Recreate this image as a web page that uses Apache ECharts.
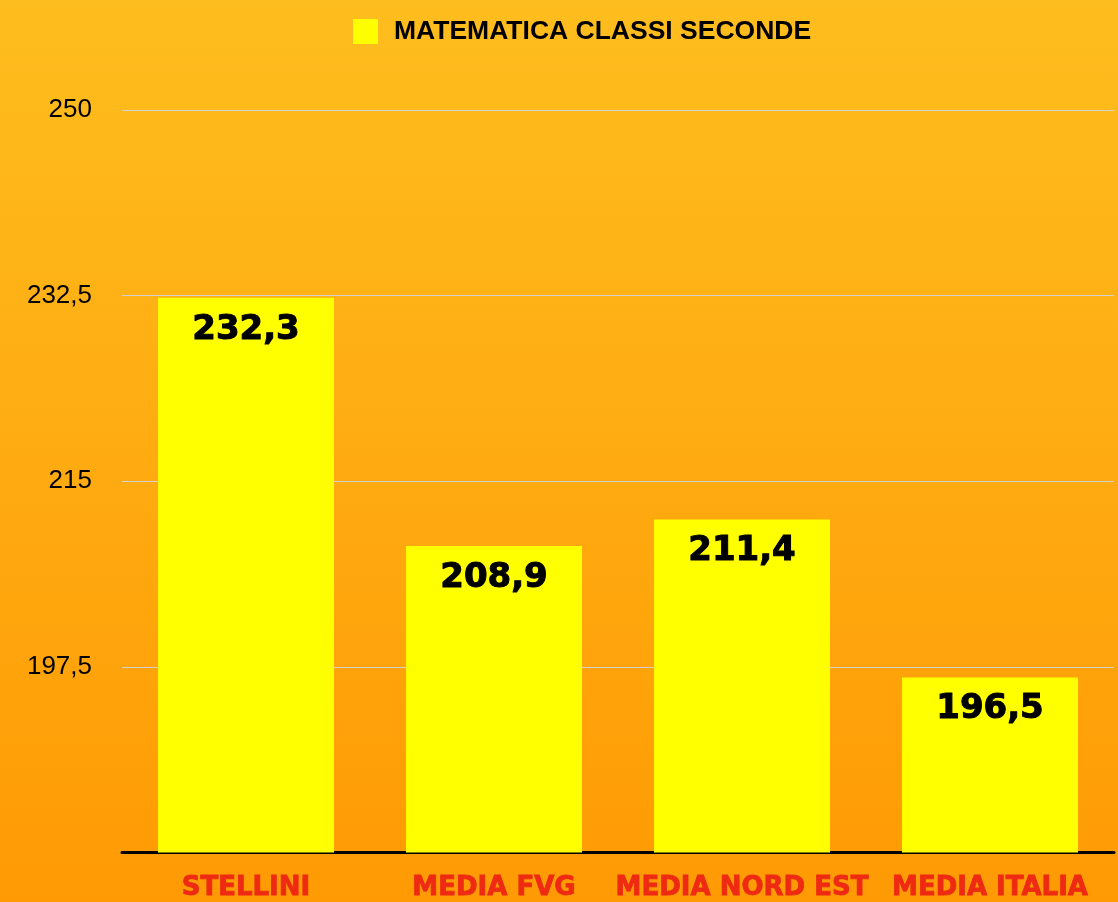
<!DOCTYPE html>
<html>
<head>
<meta charset="utf-8">
<script src="https://cdn.jsdelivr.net/npm/echarts@6/dist/echarts.min.js"></script>
<style>
  html, body { margin: 0; padding: 0; }
  #chart { width: 1118px; height: 902px; }
</style>
</head>
<body>
<div id="chart"></div>
<script>
// dati
const categorie = ['STELLINI', 'MEDIA FVG', 'MEDIA NORD EST', 'MEDIA ITALIA'];
const valori = [232.3, 208.9, 211.4, 196.5];
const nomeSerie = 'MATEMATICA CLASSI SECONDE';

const virgola = v => String(v).replace('.', ',');

document.addEventListener('DOMContentLoaded', () => {
    const chart = echarts.init(document.getElementById('chart'));
    const option = {
        backgroundColor: new echarts.graphic.LinearGradient(0, 0, 0, 1, [
            { offset: 0, color: '#FEBD1E' },
            { offset: 1, color: '#FF9A04' }
        ]),
        legend: {
            left: 348,
            top: 13,
            icon: 'rect',
            itemWidth: 25,
            itemHeight: 25,
            textStyle: {
                fontFamily: 'Liberation Sans',
                fontWeight: 'bold',
                fontSize: 26.5,
                color: '#000',
                padding: [2, 0, 0, 11]
            },
            data: [nomeSerie]
        },
        grid: { left: 122, right: 4, top: 110, bottom: 49, containLabel: false },
        xAxis: {
            type: 'category',
            data: categorie,
            axisTick: { show: false },
            axisLine: { lineStyle: { color: '#000', width: 3 } },
            axisLabel: {
                interval: 0,
                margin: 23,
                color: '#EE2A12',
                fontFamily: 'DejaVu Sans',
                fontWeight: 'bold',
                fontSize: 26,
                textBorderColor: '#EE2A12',
                textBorderWidth: 0.8
            }
        },
        yAxis: {
            type: 'value',
            min: 180,
            max: 250,
            interval: 17.5,
            axisLine: { show: false },
            axisTick: { show: false },
            splitLine: { lineStyle: { color: '#D2D2D2', width: 1 } },
            axisLabel: {
                showMinLabel: false,
                margin: 30,
                color: '#000',
                fontFamily: 'Liberation Sans',
                fontSize: 26,
                lineHeight: 34,
                padding: [8, 0, 0, 0],
                formatter: virgola
            }
        },
        series: [{
            name: nomeSerie,
            type: 'bar',
            data: valori,
            barWidth: 176,
            itemStyle: { color: '#FFFF00' },
            label: {
                show: true,
                position: 'insideTop',
                distance: 15,
                color: '#000',
                fontFamily: 'DejaVu Sans',
                fontWeight: 'bold',
                fontSize: 34,
                textBorderColor: '#000',
                textBorderWidth: 1,
                formatter: p => p.value.toFixed(1).replace('.', ',')
            }
        }]
    };
    chart.setOption(option);
});
</script>
</body>
</html>
